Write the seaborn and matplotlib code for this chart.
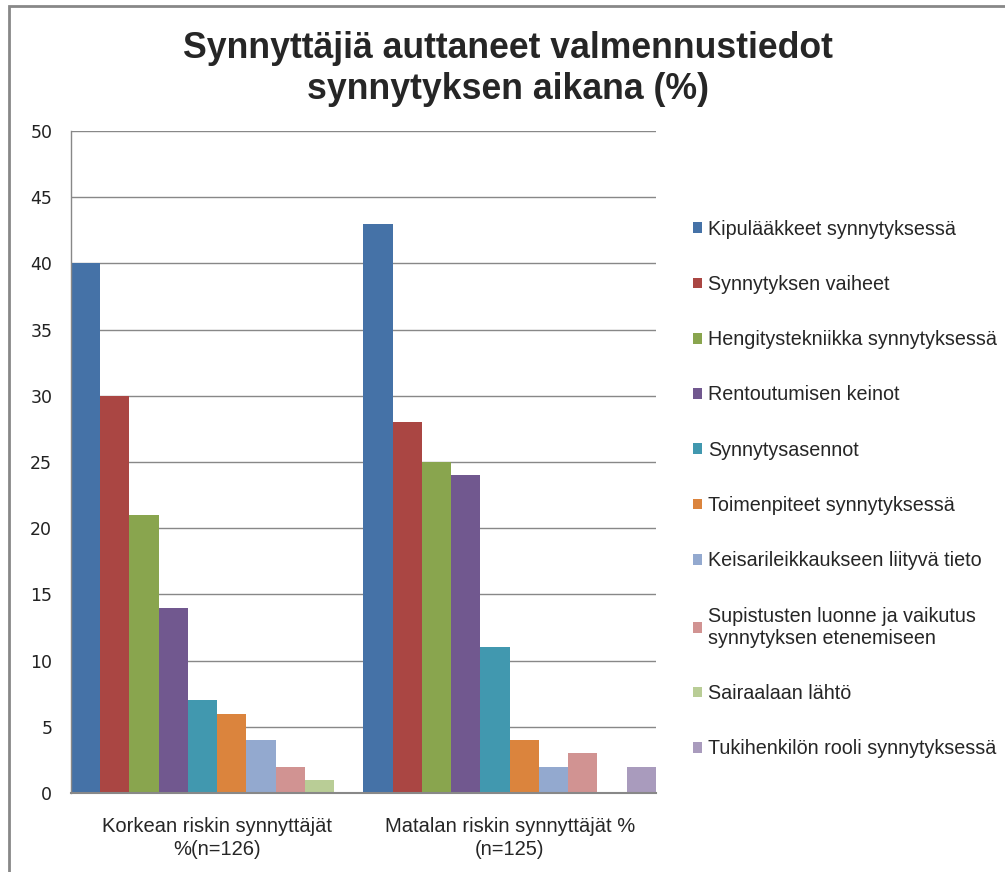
import matplotlib
matplotlib.use("Agg")
import matplotlib.pyplot as plt
import seaborn as sns
import pandas as pd
from matplotlib.patches import Rectangle

groups = ["Korkean riskin synnyttäjät\n%(n=126)", "Matalan riskin synnyttäjät %\n(n=125)"]
series = [
    "Kipulääkkeet synnytyksessä",
    "Synnytyksen vaiheet",
    "Hengitystekniikka synnytyksessä",
    "Rentoutumisen keinot",
    "Synnytysasennot",
    "Toimenpiteet synnytyksessä",
    "Keisarileikkaukseen liityvä tieto",
    "Supistusten luonne ja vaikutus\nsynnytyksen etenemiseen",
    "Sairaalaan lähtö",
    "Tukihenkilön rooli synnytyksessä",
]
high_risk = [40, 30, 21, 14, 7, 6, 4, 2, 1, 0]
low_risk = [43, 28, 25, 24, 11, 4, 2, 3, 0, 2]
colors = ["#4572A7", "#AA4643", "#89A54E", "#71588F", "#4198AF",
          "#DB843D", "#93A9CF", "#D19392", "#B9CD96", "#A99BBD"]

rows = []
for s, a, b in zip(series, high_risk, low_risk):
    rows.append({"group": groups[0], "series": s, "value": a})
    rows.append({"group": groups[1], "series": s, "value": b})
df = pd.DataFrame(rows)

sns.set_style("white")
plt.rcParams["font.family"] = ["Liberation Sans", "DejaVu Sans"]

fig = plt.figure(figsize=(10.05, 8.72), dpi=100)
ax = fig.add_axes([0.0706, 0.0906, 0.5821, 0.7592])

sns.barplot(data=df, x="group", y="value", hue="series", order=groups,
            hue_order=series, palette=colors, width=1.0, saturation=1,
            ax=ax, legend=True, linewidth=0)

ax.set_xlim(-0.5, 1.5)
ax.set_ylim(0, 50)
ax.set_yticks(range(0, 51, 5))
ax.yaxis.grid(True, color="#888888", linewidth=1)
ax.set_axisbelow(True)
ax.set_xlabel("")
ax.set_ylabel("")
for side in ["top", "right"]:
    ax.spines[side].set_visible(False)
ax.spines["left"].set_color("#888888")
ax.spines["bottom"].set_color("#888888")
ax.spines["left"].set_linewidth(1)
ax.spines["bottom"].set_linewidth(1.5)
ax.tick_params(axis="y", length=0, pad=13.5, labelsize=12.5)
for lbl in ax.get_yticklabels():
    lbl.set_family("DejaVu Sans")
    lbl.set_color("#222222")
ax.tick_params(axis="x", length=0, pad=17, labelsize=14.5)
for lbl in ax.get_xticklabels():
    lbl.set_linespacing(1.3)

handles, labels = ax.get_legend_handles_labels()
ax.legend(handles, labels, loc="upper left", bbox_to_anchor=(1.05, 0.878),
          frameon=False, fontsize=14.2, handlelength=0.46, handleheight=0.46,
          handletextpad=0.3, labelspacing=1.84, borderaxespad=0)

fig.text(0.505, 0.921, "Synnyttäjiä auttaneet valmennustiedot\nsynnytyksen aikana (%)",
         ha="center", va="center", fontsize=25.7, fontweight="bold",
         linespacing=1.22)

fig.patches.append(Rectangle((9 / 1005, -0.1), 1.2, 1 - 6 / 872 + 0.1,
                             transform=fig.transFigure, fill=False,
                             edgecolor="#888888", linewidth=2))

fig.savefig("out.png", dpi=100)
